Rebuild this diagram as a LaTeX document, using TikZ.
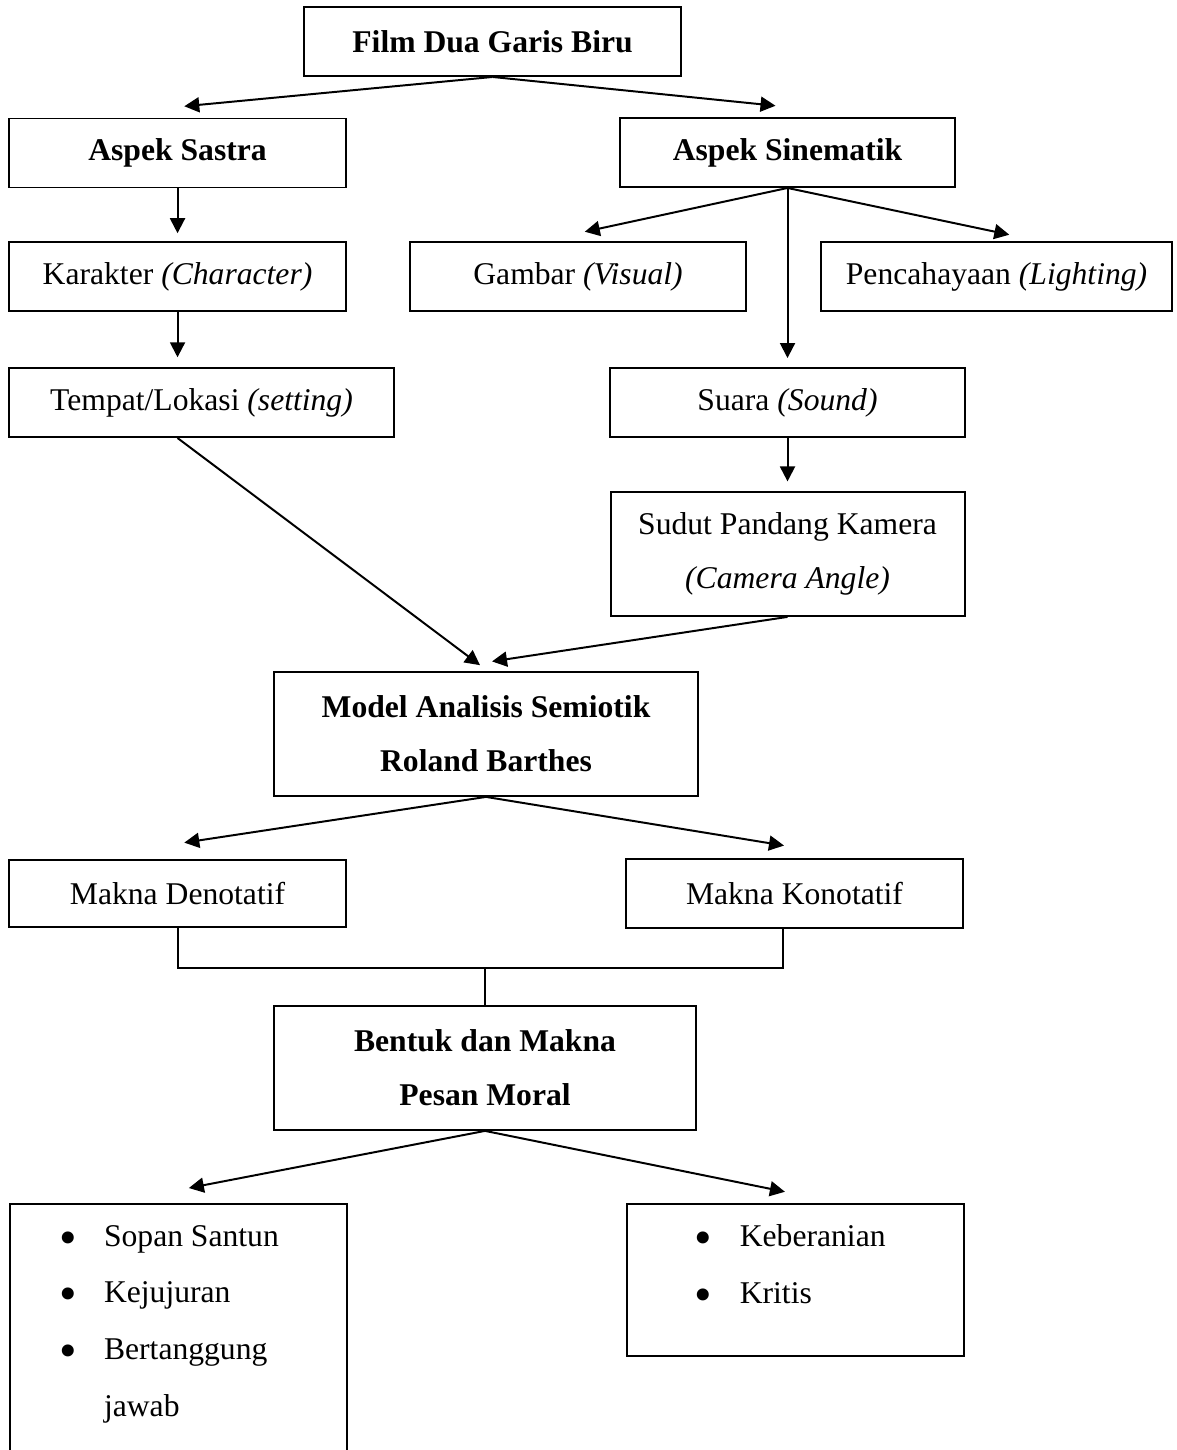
\documentclass[tikz,border=0pt]{standalone}
\usepackage{fontspec}
\setmainfont{Liberation Serif}
\usetikzlibrary{arrows.meta, positioning, calc}
\tikzset{
  kotak/.style = {draw=black, fill=white, line width=0.75pt, inner sep=2pt,
    font=\fontsize{12}{20.5}\selectfont, align=center},
  kotakb/.style = {kotak, font=\fontsize{12}{20.5}\selectfont\bfseries},
  kotak1/.style = {minimum height=0.92cm},
  kotak2/.style = {minimum height=1.65cm},
  daftar/.style = {inner sep=0pt, align=left,
    font=\fontsize{12}{21.5}\selectfont},
  panah/.style = {-{Triangle[length=2mm, width=2mm]}, line width=0.75pt},
  garis/.style = {draw=black, line width=0.75pt}
}
\newcommand{\poin}{\makebox[6mm][l]{\raisebox{-3pt}{\fontsize{19}{19}\selectfont\textbullet}}}

\begin{document}
\begin{tikzpicture}
  \fill [white] (0,0) rectangle (15.68,-19.333);
  \useasboundingbox (0,0) rectangle (15.68,-19.333);
  \node [kotakb, kotak1, minimum width=5.03cm] (film) at (6.567,-0.553) {Film Dua Garis Biru};
  \node [kotakb, kotak1, minimum width=4.49cm] (sastra) at (2.367,-2.04) {Aspek Sastra};
  \node [kotakb, kotak1, minimum width=4.47cm] (sinematik) at (10.5,-2.033) {Aspek Sinematik};
  \node [kotak, kotak1, minimum width=4.49cm] (karakter) at (2.367,-3.693) {Karakter \textit{(Character)}};
  \node [kotak, kotak1, minimum width=4.48cm] (gambar) at (7.707,-3.693) {Gambar \textit{(Visual)}};
  \node [kotak, kotak1, minimum width=4.68cm] (cahaya) at (13.287,-3.693) {Pencahayaan \textit{(Lighting)}};
  \node [kotak, kotak1, minimum width=5.13cm] (tempat) at (2.687,-5.367) {Tempat/Lokasi \textit{(setting)}};
  \node [kotak, kotak1, minimum width=4.73cm] (suara) at (10.5,-5.367) {Suara \textit{(Sound)}};
  \node [kotak, kotak2, minimum width=4.72cm] (sudut) at (10.5,-7.387) {Sudut Pandang Kamera\\\textit{(Camera Angle)}};
  \node [kotakb, kotak2, minimum width=5.65cm] (model) at (6.48,-9.787) {Model Analisis Semiotik\\Roland Barthes};
  \node [kotak, minimum width=4.49cm, minimum height=0.89cm] (denotatif) at (2.367,-11.913) {Makna Denotatif};
  \node [kotak, kotak1, minimum width=4.49cm] (konotatif) at (10.593,-11.907) {Makna Konotatif};
  \node [kotakb, kotak2, minimum width=5.63cm] (bentuk) at (6.467,-14.24) {Bentuk dan Makna\\Pesan Moral};
  \node [kotak, anchor=north west, minimum width=4.49cm, minimum height=3.6cm] (kiri) at (0.12,-16.04) {};
  \node [kotak, anchor=north west, minimum width=4.49cm, minimum height=2.03cm] (kanan) at (8.347,-16.04) {};
  \node [daftar, below right=0.29cm and 0.66cm of kiri.north west] (kiripoin)
    {\poin Sopan Santun\\\poin Kejujuran\\\poin Bertanggung\\\hspace*{6mm}jawab};
  \node [daftar, below right=0.28cm and 0.91cm of kanan.north west] (kananpoin)
    {\poin Keberanian\\\poin Kritis};

  \draw [panah] (film.south) -- ([xshift=0.9mm,yshift=1.5mm]sastra.north);
  \draw [panah] (film.south) -- ([xshift=-1.6mm,yshift=1.5mm]sinematik.north);
  \draw [panah] (sastra.south) -- ([yshift=1.1mm]karakter.north);
  \draw [panah, shorten >=1.3mm] (karakter.south) -- (karakter |- tempat.north);
  \draw [panah] (sinematik.south) -- ([xshift=0.9mm,yshift=1.3mm]gambar.north);
  \draw [panah] (sinematik.south) -- ([xshift=1.7mm,yshift=0.9mm]cahaya.north);
  \draw [panah] (sinematik.south) -- ([yshift=1.2mm]suara.north);
  \draw [panah] (suara.south) -- ([yshift=1.3mm]sudut.north);
  \draw [panah] (karakter |- tempat.south) -- ([xshift=-0.8mm,yshift=0.8mm]model.north);
  \draw [panah] (sudut.south) -- ([xshift=0.8mm,yshift=1.3mm]model.north);
  \draw [panah] (model.south) -- ([xshift=0.9mm,yshift=2.2mm]denotatif.north);
  \draw [panah] (model.south) -- ([xshift=-1.4mm,yshift=1.6mm]konotatif.north);
  \coordinate (gabung) at ($(bentuk.north)+(0,0.49)$);
  \draw [garis] (denotatif.south) |- (gabung) -| ([xshift=-1.5mm]konotatif.south);
  \draw [garis] (gabung) -- (bentuk.north);
  \draw [panah] (bentuk.south) -- ([xshift=1.4mm,yshift=2mm]kiri.north);
  \draw [panah] (bentuk.south) -- ([xshift=-1.4mm,yshift=1.5mm]kanan.north);
\end{tikzpicture}
\end{document}
